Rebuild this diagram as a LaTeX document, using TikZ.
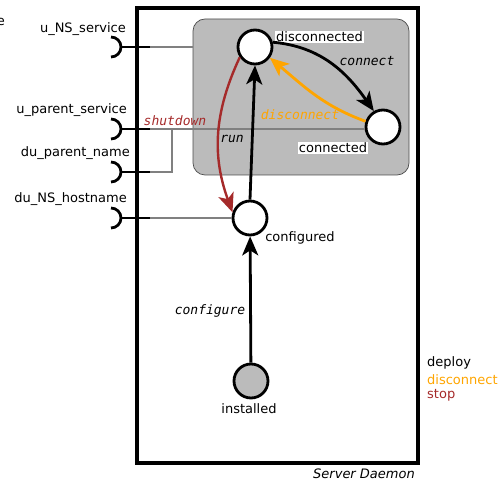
\documentclass[tikz,border=0pt]{standalone}
\usepackage{fontspec}
\setmainfont{DejaVu Sans}
\setmonofont{DejaVu Sans Mono}
\usetikzlibrary{arrows.meta}
\definecolor{dorange}{HTML}{FFA500}
\definecolor{dred}{HTML}{A52A2A}
\definecolor{boxgray}{HTML}{BBBBBB}
\definecolor{linegray}{HTML}{808080}
\begin{document}
\begin{tikzpicture}[x=1pt,y=1pt,
  font=\fontsize{13}{15}\selectfont,
  state/.style={circle,draw=black,line width=2.8pt,fill=white,minimum size=34pt,inner sep=0pt},
  grp/.style={draw=black!70,line width=0.7pt,fill=boxgray,rounded corners=12pt,minimum width=216pt,minimum height=156pt,inner sep=0pt},
  lbl/.style={inner sep=1pt},
  wlbl/.style={fill=white,inner sep=1pt},
  tr/.style={font=\fontsize{13}{15}\selectfont\ttfamily\itshape,inner sep=1pt},
  arr/.style={line width=2.8pt,-{Stealth[length=19pt,width=16pt,inset=5pt]}},
  wire/.style={draw=linegray,line width=1.4pt},
  sock/.style={line width=2.8pt},
]
\useasboundingbox (0,0) rectangle (500,482);
% main component box
\draw[line width=3.2pt] (137,19) rectangle (418,474);
\node[lbl,anchor=base east,font=\fontsize{13}{15}\selectfont\itshape] (sd) at (416,4) {Server Daemon};
\node[lbl,anchor=base east] (clip) at (6,456) {e};
% group box
\node[grp] (grp) at (301,385) {};
% sockets
\foreach \y/\n in {435/s1,353/s2,310/s3,264/s4}{
  \draw[sock] (111,\y+10) arc[start angle=90,end angle=-90,radius=10];
  \draw[sock] (121,\y) -- (150,\y) coordinate (\n);
}
\node[lbl,anchor=base east] (l1) at (127,449) {u\_NS\_service};
\node[lbl,anchor=base east] (l2) at (128,368) {u\_parent\_service};
\node[lbl,anchor=base east] (l3) at (131,325) {du\_parent\_name};
\node[lbl,anchor=base east] (l4) at (128,279) {du\_NS\_hostname};
% states
\node[state] (disc) at (255,435) {};
\node[state] (conn) at (383,355) {};
\node[state] (conf) at (250,264) {};
\node[state,fill=boxgray] (inst) at (251,101) {};
\node[wlbl,anchor=west] (tdisc) at (275,445) {disconnected};
\node[wlbl] (tconn) at (333,334) {connected};
\node[lbl] (tconf) at (300,244) {configured};
\node[lbl] (tinst) at (249,73) {installed};
% wires
\coordinate (jn) at (172,353);
\draw[wire] (s1) -- (s1 -| grp.west);
\draw[wire] (s2) -- (s2 -| conn.west);
\draw[wire] (s3) -| (jn);
\draw[wire] (s4) -- (conf.west);
% transitions
\draw[arr] (inst) -- (conf);
\draw[arr] (conf.north) -- (disc.south);
\draw[arr] (disc.15) to[out=-5,in=125] (conn.120);
\draw[arr,dorange] (conn.162) to[out=160,in=-40] (disc.-36);
\draw[arr,dred,line width=2.4pt] (disc.214) to[out=-115,in=110] (conf.162);
\node[tr] (tcfg) at (210,171) {configure};
\node[tr] (trun) at (232,343) {run};
\node[tr] (tcon) at (367,421) {connect};
\node[tr,text=dorange] (tdis) at (300,367) {disconnect};
\node[tr,text=dred] (tshu) at (175,361) {shutdown};
% legend
\node[lbl,anchor=west] (g1) at (426,119) {deploy};
\node[lbl,anchor=west,text=dorange] (g2) at (426,102) {disconnect};
\node[lbl,anchor=west,text=dred] (g3) at (426,87) {stop};
\end{tikzpicture}
\end{document}
